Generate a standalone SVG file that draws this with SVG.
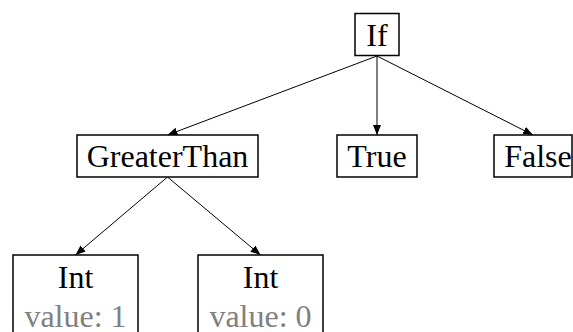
<svg xmlns="http://www.w3.org/2000/svg" width="573" height="332" viewBox="0 0 573 332">
<style>
.box{fill:#fff;stroke:#000;stroke-width:1.5}
.lbl{font-family:"Liberation Serif","Times New Roman",serif;font-size:32px;fill:#000;text-anchor:middle}
.val{fill:#808080}
.edge{stroke:#000;stroke-width:1;fill:none;marker-end:url(#arr)}
</style>
<defs>
<marker id="arr" viewBox="0 0 10 8" refX="10" refY="4" markerWidth="10" markerHeight="8" markerUnits="userSpaceOnUse" orient="auto">
<path d="M0,0 L10,4 L0,8 z" fill="#000"/>
</marker>
</defs>
<rect width="573" height="332" fill="#fff"/>
<g id="edges">
<line class="edge" x1="377" y1="56" x2="167.5" y2="135"/>
<line class="edge" x1="377" y1="56" x2="377" y2="135"/>
<line class="edge" x1="377" y1="56" x2="533" y2="135"/>
<line class="edge" x1="167.5" y1="177" x2="75.5" y2="255"/>
<line class="edge" x1="167.5" y1="177" x2="260.5" y2="255"/>
</g>
<g id="n-if">
<rect class="box" x="355" y="13.5" width="44" height="42"/>
<text class="lbl" x="377" y="45.5">If</text>
</g>
<g id="n-greaterthan">
<rect class="box" x="77" y="135" width="181" height="42"/>
<text class="lbl" x="167.5" y="167">GreaterThan</text>
</g>
<g id="n-true">
<rect class="box" x="337" y="135" width="80" height="42"/>
<text class="lbl" x="377" y="167">True</text>
</g>
<g id="n-false">
<rect class="box" x="494" y="135" width="78" height="42"/>
<text class="lbl" x="538" y="167">False</text>
</g>
<g id="n-int1">
<rect class="box" x="13" y="255" width="125" height="90"/>
<text class="lbl" x="75.5" y="287.5">Int</text>
<text class="lbl val" x="75.5" y="327">value: 1</text>
</g>
<g id="n-int0">
<rect class="box" x="198" y="255" width="125" height="90"/>
<text class="lbl" x="260.5" y="287.5">Int</text>
<text class="lbl val" x="260.5" y="327">value: 0</text>
</g>
</svg>
